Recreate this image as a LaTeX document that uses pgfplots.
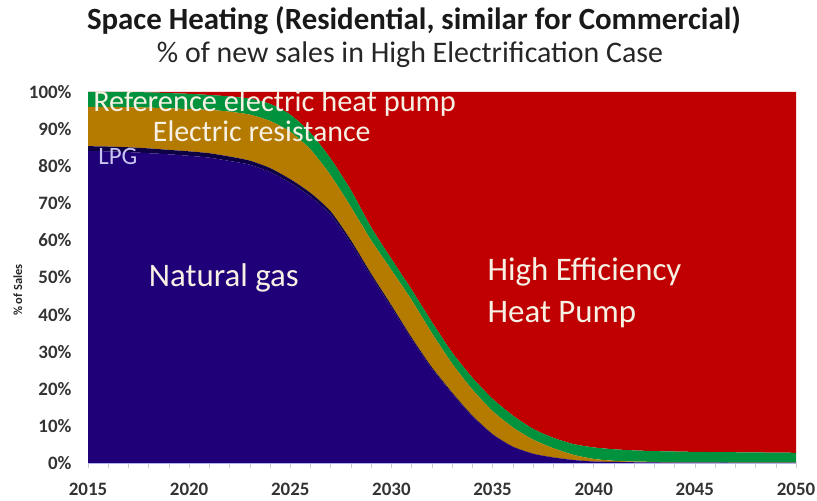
\documentclass[border=0pt]{standalone}
\usepackage{pgfplots}
\pgfplotsset{compat=1.18}
\usepackage{pgfplotstable}
\usepackage{fontspec}
\setmainfont{Carlito}
\definecolor{gasc}{HTML}{1F0078}
\definecolor{lpgc}{HTML}{0E0045}
\definecolor{erc}{HTML}{B57B00}
\definecolor{hpc}{HTML}{00923C}
\definecolor{hec}{HTML}{C00000}
\definecolor{txt}{HTML}{F6F1E4}
\definecolor{lpgtxt}{HTML}{C8C4F0}
\pgfplotstableread{
year gas lpg er hp he
2015 84.1 1.3 10.6 4.0 0.0
2016 84.0 1.3 10.7 4.0 0.0
2017 83.8 1.3 10.8 4.1 0.0
2018 83.5 1.3 11.0 4.1 0.1
2019 83.2 1.2 11.2 4.1 0.3
2020 82.8 1.2 11.4 4.1 0.5
2021 82.3 1.2 11.7 4.0 0.8
2022 81.4 1.2 12.1 4.1 1.2
2023 80.4 1.1 12.4 4.3 1.8
2024 78.4 1.1 12.7 4.6 3.2
2025 75.5 1.0 12.8 4.6 6.1
2026 71.8 1.0 11.7 4.5 11.0
2027 66.9 0.9 9.7 4.5 18.0
2028 59.2 0.8 9.0 4.5 26.5
2029 50.3 0.7 9.0 3.5 36.5
2030 41.9 0.6 9.5 3.0 45.0
2031 33.3 0.5 10.1 2.8 53.3
2032 25.4 0.4 9.2 3.0 62.0
2033 18.7 0.3 7.8 3.0 70.2
2034 12.6 0.2 7.0 3.2 77.0
2035 7.7 0.1 6.2 3.3 82.7
2036 4.4 0.0 5.2 3.2 87.2
2037 2.5 0.0 3.8 2.9 90.8
2038 1.5 0.0 2.5 2.8 93.2
2039 0.8 0.0 1.4 2.9 94.9
2040 0.4 0.0 0.7 3.1 95.8
2041 0.3 0.0 0.3 3.1 96.3
2042 0.2 0.0 0.2 3.0 96.6
2043 0.15 0.0 0.15 2.9 96.8
2044 0.1 0.0 0.1 2.9 96.9
2045 0.1 0.0 0.1 2.8 97.0
2046 0.1 0.0 0.05 2.8 97.05
2047 0.05 0.0 0.05 2.8 97.1
2048 0.05 0.0 0.05 2.75 97.15
2049 0.05 0.0 0.05 2.7 97.2
2050 0.05 0.0 0.05 2.65 97.25
}\datatable
\begin{document}
\begin{tikzpicture}
\useasboundingbox (0bp,0bp) rectangle (817bp,501bp);
\node[font=\bfseries\fontsize{31}{34}\selectfont, text=black!90] at (414bp,480bp) {Space Heating (Residential, similar for Commercial)};
\node[font=\fontsize{30}{33}\selectfont, text=black!85] at (410bp,446bp) {\% of new sales in High Electrification Case};
\begin{axis}[
  at={(88bp,38bp)}, anchor=south west,
  scale only axis, width=708bp, height=371bp,
  xmin=2015, xmax=2050, ymin=0, ymax=100,
  stack plots=y,
  axis x line*=bottom, axis y line*=left,
  x axis line style={draw=black!25!blue!30!white, line width=0.8pt},
  y axis line style={draw=none},
  xtick={2015,2020,...,2050},
  minor x tick num=4,
  tick align=outside,
  major tick length=5bp, minor tick length=5bp,
  x tick style={draw=black!20, line width=0.5pt},
  ytick={0,10,...,100},
  y tick style={draw=none},
  /pgf/number format/assume math mode=true,
  xticklabel style={/pgf/number format/1000 sep={}, font=\bfseries\fontsize{19}{19}\selectfont, text=black!80, yshift=-12bp},
  yticklabel={\pgfmathprintnumber{\tick}\%},
  yticklabel style={font=\bfseries\fontsize{19}{19}\selectfont, text=black!80, xshift=-8bp},
  ylabel={\% of Sales},
  ylabel style={font=\bfseries\fontsize{12.5}{12.5}\selectfont, text=black!85, at={(axis description cs:-0.099,0.466)}, anchor=center},
  axis on top,
  clip=false,
]
\addplot[fill=gasc, draw=none, smooth, tension=0.4] table[x=year, y=gas] {\datatable} \closedcycle;
\addplot[fill=lpgc, draw=none, smooth, tension=0.4] table[x=year, y=lpg] {\datatable} \closedcycle;
\addplot[fill=erc, draw=none, smooth, tension=0.4] table[x=year, y=er] {\datatable} \closedcycle;
\addplot[fill=hpc, draw=none, smooth, tension=0.4] table[x=year, y=hp] {\datatable} \closedcycle;
\addplot[fill=hec, draw=none, smooth, tension=0.4] table[x=year, y=he] {\datatable} \closedcycle;
\coordinate (tref) at (axis cs:2015.25,97.0);
\coordinate (tres) at (axis cs:2018.2,89.4);
\coordinate (tlpg) at (axis cs:2015.5,82.6);
\coordinate (tgas) at (axis cs:2018.0,50.0);
\coordinate (the1) at (axis cs:2034.75,51.5);
\coordinate (the2) at (axis cs:2034.75,39.9);
\end{axis}
\node[anchor=west, text=txt, font=\fontsize{30.5}{30.5}\selectfont, inner sep=0pt] at (tref) {Reference electric heat pump};
\node[anchor=west, text=txt, font=\fontsize{30}{30}\selectfont, inner sep=0pt] at (tres) {Electric resistance};
\node[anchor=west, text=lpgtxt, font=\fontsize{25}{25}\selectfont, inner sep=0pt] at (tlpg) {LPG};
\node[anchor=west, text=txt, font=\fontsize{33}{33}\selectfont, inner sep=0pt] at (tgas) {Natural gas};
\node[anchor=west, text=txt, font=\fontsize{33}{33}\selectfont, inner sep=0pt] at (the1) {High Efficiency};
\node[anchor=west, text=txt, font=\fontsize{33}{33}\selectfont, inner sep=0pt] at (the2) {Heat Pump};
\end{tikzpicture}
\end{document}
